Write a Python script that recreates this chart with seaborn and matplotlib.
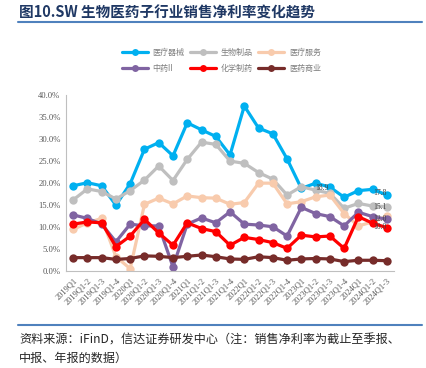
import matplotlib.pyplot as plt
import matplotlib.lines as mlines
import pandas as pd
import seaborn as sns

# quarter labels (cumulative reporting periods)
quarters = []
for yr in range(2019, 2025):
    for q in ['Q1', 'Q1-2', 'Q1-3', 'Q1-4']:
        quarters.append(f'{yr}{q}')
quarters = quarters[:23]

# sales net margin, %
med_device = [19.3, 20.0, 19.3, 14.9, 19.8, 27.6, 29.1, 26.1, 33.6, 32.0, 30.5, 26.3,
              37.4, 32.4, 31.1, 25.4, 18.7, 19.9, 19.0, 16.7, 18.2, 18.5, 17.2]
bio_product = [16.1, 18.6, 18.0, 16.3, 18.2, 20.6, 23.8, 20.5, 25.3, 29.2, 28.7, 24.9,
               24.4, 22.3, 20.8, 17.2, 19.1, 18.3, 17.6, 14.2, 15.3, 14.7, 14.6]
med_service = [9.4, 10.9, 11.9, 3.2, 0.5, 15.1, 16.5, 15.2, 17.0, 16.6, 16.5, 15.1,
               15.5, 19.9, 19.9, 15.2, 15.7, 16.8, 17.2, 13.0, 10.2, 11.1, 12.4]
tcm = [12.7, 11.9, 10.6, 6.6, 10.6, 10.2, 10.2, 0.9, 10.6, 12.0, 10.9, 13.4,
       10.6, 10.4, 10.0, 7.9, 14.4, 13.0, 12.3, 10.2, 13.3, 12.3, 11.7]
chem_pharma = [10.6, 11.1, 10.9, 5.5, 7.9, 11.7, 8.6, 5.8, 10.9, 9.6, 8.9, 5.8,
               7.6, 7.1, 6.4, 5.1, 8.1, 7.7, 7.9, 5.1, 12.3, 10.8, 9.8]
pharma_commerce = [3.0, 3.0, 3.0, 2.6, 2.8, 3.4, 3.3, 3.0, 3.3, 3.6, 3.2, 2.7,
                   2.6, 3.2, 3.0, 2.4, 2.7, 2.8, 2.7, 2.1, 2.4, 2.4, 2.3]

series_names = ['医疗器械', '生物制品', '医疗服务', '中药II', '化学制药', '医药商业']
series_values = [med_device, bio_product, med_service, tcm, chem_pharma, pharma_commerce]
colors = ['#00B0F0', '#BFBFBF', '#F8CBAD', '#8064A2', '#FF0000', '#772C2A']

# value labels seen near the right end: (text, x position, y position)
label_texts = ['18.9', '17.8', '15.1', '12.0', '10.0']
label_x = [17.45, 21.5, 21.5, 21.5, 21.5]
label_y = [18.8, 17.7, 14.5, 11.8, 10.0]

rows = []
for name, vals in zip(series_names, series_values):
    for i, v in enumerate(vals):
        rows.append({'period': i, 'value': v, 'sector': name})
df = pd.DataFrame(rows)

sns.set_theme(style='white')
plt.rcParams['font.family'] = ['Noto Sans CJK SC', 'DejaVu Sans']

fig = plt.figure(figsize=(4.26, 3.68), dpi=100)
ax = fig.add_axes([0.155, 0.264, 0.77, 0.479])

sns.lineplot(data=df, x='period', y='value', hue='sector', hue_order=series_names,
             palette=colors, marker='o', markersize=6, markeredgewidth=0,
             linewidth=2.3, ax=ax, legend=False)

ax.set_xlim(-0.5, 22.5)
ax.set_ylim(0, 40)
ax.set_yticks(range(0, 41, 5))
ax.set_yticklabels([f'{v:.1f}%' for v in range(0, 41, 5)],
                   family='Liberation Serif', fontsize=6.2, color='#595959')
ax.set_xticks(range(len(quarters)))
ax.set_xticklabels(quarters, rotation=45, ha='right', rotation_mode='anchor',
                   family='Liberation Serif', fontsize=6, color='#595959')
ax.set_xlabel('')
ax.set_ylabel('')
ax.tick_params(axis='both', length=2, width=0.6, colors='#BFBFBF', pad=2)
ax.tick_params(axis='x', labelcolor='#595959')
ax.tick_params(axis='y', labelcolor='#595959')
for s in ['top', 'right']:
    ax.spines[s].set_visible(False)
for s in ['left', 'bottom']:
    ax.spines[s].set_color('#BFBFBF')
    ax.spines[s].set_linewidth(0.8)

for t, lx, ly in zip(label_texts, label_x, label_y):
    ax.text(lx, ly, t, fontsize=5.5, family='Liberation Serif', color='#404040',
            ha='center', va='center')

# legend: row-wise order with ncol=3 needs column-major handles
handles = [mlines.Line2D([], [], color=c, lw=2.3, marker='o', markersize=5,
                         markeredgewidth=0) for c in colors]
order = [0, 3, 1, 4, 2, 5]
fig.legend([handles[i] for i in order], [series_names[i] for i in order],
           loc='center', bbox_to_anchor=(0.52, 0.836), ncol=3, frameon=False,
           fontsize=5.8, labelcolor='#7F7F7F', handlelength=3.2,
           columnspacing=0.7, handletextpad=0.6, labelspacing=0.85)

fig.text(0.045, 0.965, '图10.SW 生物医药子行业销售净利率变化趋势', fontsize=10.5,
         fontweight='bold', color='#1F3864', va='center', ha='left')
fig.add_artist(mlines.Line2D([0.042, 0.99], [0.94, 0.94], color='#4F81BD', lw=1.5))
fig.add_artist(mlines.Line2D([0.042, 0.99], [0.117, 0.117], color='#4F81BD', lw=1.5))
fig.text(0.045, 0.077, '资料来源：iFinD，信达证券研发中心（注：销售净利率为截止至季报、',
         fontsize=8.7, color='#262626', va='center', ha='left')
fig.text(0.045, 0.025, '中报、年报的数据）',
         fontsize=8.7, color='#262626', va='center', ha='left')

fig.savefig('out.png', dpi=100)
